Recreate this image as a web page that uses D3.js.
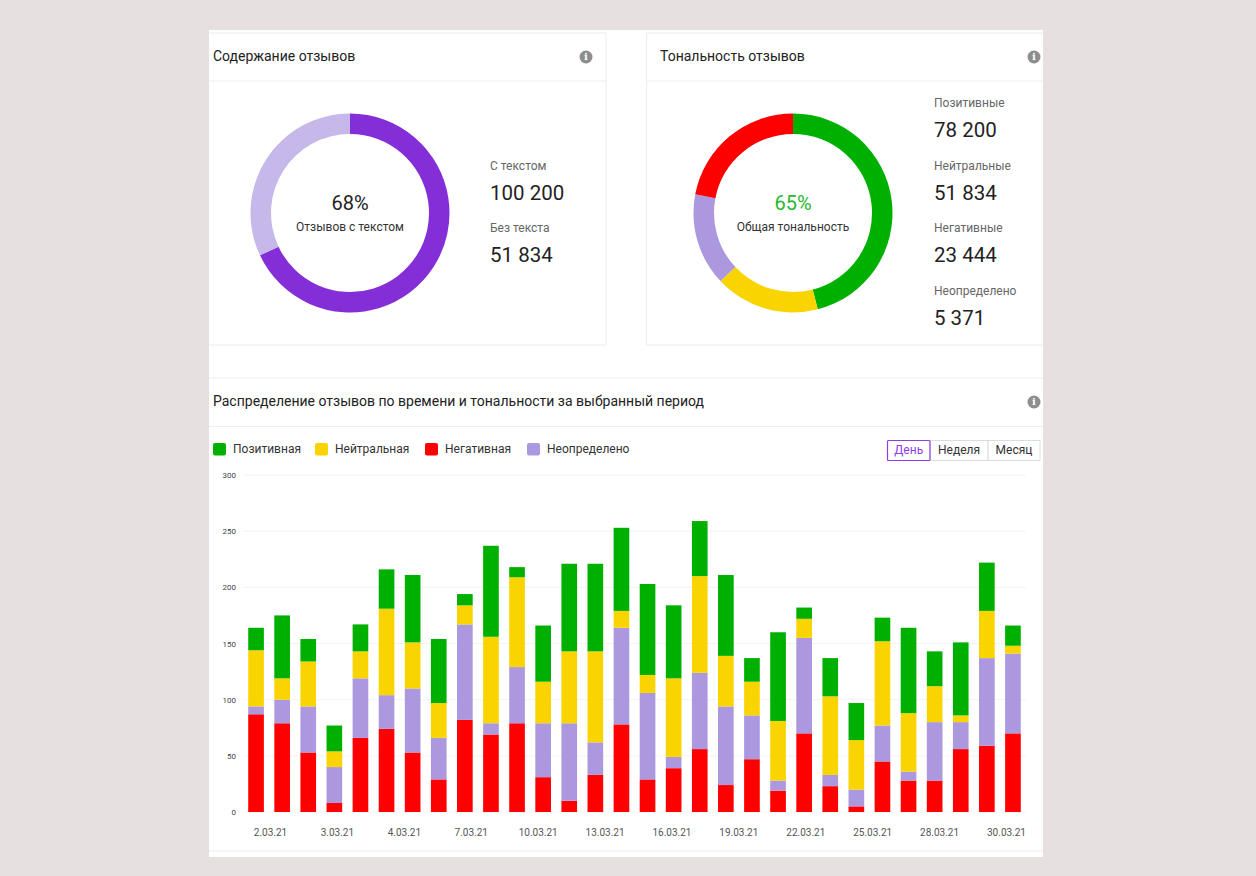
<!DOCTYPE html>
<html lang="ru">
<head>
<meta charset="utf-8">
<script src="https://cdn.jsdelivr.net/npm/d3@7.9.0/dist/d3.min.js"></script>
<style>
  html, body { margin: 0; padding: 0; background: #e6e0e0; }
  svg { display: block; font-family: Roboto, "Noto Sans", sans-serif; }
</style>
</head>
<body>
<svg id="chart" width="1256" height="876"></svg>
<script>
// ─── Data ────────────────────────────────────────────────────────────────────
const contentLabels = ['С текстом', 'Без текста'];
const contentValues = ['100 200', '51 834'];
const contentShares = [68, 32];           // donut slices, %

const toneLabels = ['Позитивные', 'Нейтральные', 'Негативные', 'Неопределено'];
const toneValues = ['78 200', '51 834', '23 444', '5 371'];
// donut slices as drawn (clockwise from top): positive, neutral, undefined, negative
const toneRingKeys = ['positive', 'neutral', 'undef', 'negative'];
const toneRingShares = [46, 17, 15, 22];

const days = ['1.03.21','2.03.21','3.03.21','4.03.21','5.03.21','6.03.21','7.03.21','8.03.21','9.03.21','10.03.21',
              '11.03.21','12.03.21','13.03.21','14.03.21','15.03.21','16.03.21','17.03.21','18.03.21','19.03.21','20.03.21',
              '21.03.21','22.03.21','23.03.21','24.03.21','25.03.21','26.03.21','27.03.21','28.03.21','29.03.21','30.03.21'];
const negative = [87,79,53,8,66,74,53,29,82,69,79,31,10,33,78,29,39,56,24,47,19,70,23,5,45,28,28,56,59,70];
const undef    = [7,21,41,32,53,30,57,37,85,10,50,48,69,29,86,77,10,68,70,39,9,85,10,15,32,8,52,24,78,71];
const neutral  = [50,19,40,14,24,77,41,31,17,77,80,37,64,81,15,16,70,86,45,30,53,17,70,44,75,52,32,6,42,7];
const positive = [20,56,20,23,24,35,60,57,10,81,9,50,78,78,74,81,65,49,72,21,79,10,34,33,21,76,31,65,43,18];

const xTickLabels = ['2.03.21','3.03.21','4.03.21','7.03.21','10.03.21','13.03.21','16.03.21','19.03.21','22.03.21','25.03.21','28.03.21','30.03.21'];
const yTicks = [0, 50, 100, 150, 200, 250, 300];

const legendLabels = ['Позитивная', 'Нейтральная', 'Негативная', 'Неопределено'];
const legendKeys = ['positive', 'neutral', 'negative', 'undef'];
const periodButtons = ['День', 'Неделя', 'Месяц'];

// ─── Colours ─────────────────────────────────────────────────────────────────
const colors = {
    positive: '#00b000',
    neutral: '#f9d400',
    negative: '#ff0000',
    undef: '#ab98de'
};
const border = '#eeeeee';

const svg = d3.select('#chart');

// ─── Page frame & cards (the screenshot crops the cards at the white area) ──
svg.append('defs').append('clipPath').attr('id', 'page')
    .append('rect').attr('x', 209).attr('y', 30).attr('width', 834).attr('height', 827);
svg.append('rect').attr('x', 209).attr('y', 30).attr('width', 834).attr('height', 827).attr('fill', '#fff');
const frame = svg.append('g').attr('clip-path', 'url(#page)');

function card(x, y, w, h, headerY) {
    frame.append('rect').attr('x', x).attr('y', y).attr('width', w).attr('height', h)
        .attr('fill', 'none').attr('stroke', border).attr('stroke-width', 1.2);
    frame.append('line').attr('x1', x).attr('x2', x + w).attr('y1', headerY).attr('y2', headerY)
        .attr('stroke', border).attr('stroke-width', 1.2);
}
card(195, 33, 411, 312, 81);
card(646.5, 33, 420, 312, 81);
card(195, 378, 860, 473, 426.5);

function title(x, y, text) {
    svg.append('text').attr('x', x).attr('y', y).attr('font-size', 14).attr('fill', '#222')
        .attr('dominant-baseline', 'middle').text(text);
}
function infoIcon(cx, cy) {
    svg.append('circle').attr('cx', cx).attr('cy', cy).attr('r', 6.5).attr('fill', '#8e8e8e');
    svg.append('text').attr('x', cx).attr('y', cy + 0.5).attr('text-anchor', 'middle')
        .attr('dominant-baseline', 'middle').attr('font-size', 10).attr('font-weight', 700)
        .attr('font-family', 'DejaVu Serif, serif').attr('fill', '#fff').text('i');
}
title(213, 57.5, 'Содержание отзывов');
title(660, 57.5, 'Тональность отзывов');
title(213, 402.5, 'Распределение отзывов по времени и тональности за выбранный период');
infoIcon(586, 57);
infoIcon(1034, 57);
infoIcon(1034, 402);

// ─── Donuts ──────────────────────────────────────────────────────────────────
const pie = d3.pie().sort(null).value(d => d.value);
const ring = d3.arc().innerRadius(79).outerRadius(99.5);

function donut(cx, cy, data, big, bigColor, small) {
    const g = svg.append('g').attr('transform', `translate(${cx},${cy})`);
    g.selectAll('path').data(pie(data)).join('path')
        .attr('d', ring).attr('fill', d => d.data.color);
    g.append('text').attr('y', -8).attr('text-anchor', 'middle').attr('dominant-baseline', 'middle')
        .attr('font-size', 20).attr('fill', bigColor).text(big);
    g.append('text').attr('y', 15).attr('text-anchor', 'middle').attr('dominant-baseline', 'middle')
        .attr('font-size', 12).attr('fill', '#333').text(small);
}
donut(350, 213,
    contentShares.map((v, i) => ({ value: v, color: i === 0 ? '#842ed8' : '#c6b8e8' })),
    `${contentShares[0]}%`, '#222', 'Отзывов с текстом');
donut(793, 213,
    toneRingShares.map((v, i) => ({ value: v, color: colors[toneRingKeys[i]] })),
    '65%', '#27b82e', 'Общая тональность');

function statList(x, y0, labels, values) {
    labels.forEach((lab, i) => {
        const y = y0 + i * 62.5;
        svg.append('text').attr('x', x).attr('y', y).attr('dominant-baseline', 'middle')
            .attr('font-size', 12).attr('fill', '#666').text(lab);
        svg.append('text').attr('x', x).attr('y', y + 28).attr('dominant-baseline', 'middle')
            .attr('font-size', 20.5).attr('fill', '#222').text(values[i]);
    });
}
statList(490, 166.5, contentLabels, contentValues);
statList(934, 104, toneLabels, toneValues);

// ─── Legend ──────────────────────────────────────────────────────────────────
const legendX = [213, 315, 425, 527];
legendLabels.forEach((lab, i) => {
    svg.append('rect').attr('x', legendX[i]).attr('y', 443).attr('width', 13).attr('height', 12.5)
        .attr('rx', 2).attr('fill', colors[legendKeys[i]]);
    svg.append('text').attr('x', legendX[i] + 20).attr('y', 450).attr('dominant-baseline', 'middle')
        .attr('font-size', 12).attr('fill', '#333').text(lab);
});

// ─── Period buttons ─────────────────────────────────────────────────────────
const btnEdges = [887.5, 930, 988, 1040];
periodButtons.forEach((lab, i) => {
    const x0 = btnEdges[i], x1 = btnEdges[i + 1];
    svg.append('rect').attr('x', x0).attr('y', 440.5).attr('width', x1 - x0).attr('height', 20)
        .attr('fill', '#fff').attr('stroke', i === 0 ? 'none' : '#dcdcdc').attr('stroke-width', 1);
    svg.append('text').attr('x', (x0 + x1) / 2).attr('y', 451).attr('text-anchor', 'middle')
        .attr('dominant-baseline', 'middle').attr('font-size', 12)
        .attr('fill', i === 0 ? '#8a3ee8' : '#333').text(lab);
});
svg.append('rect').attr('x', btnEdges[0]).attr('y', 440.5).attr('width', btnEdges[1] - btnEdges[0]).attr('height', 20)
    .attr('rx', 1).attr('fill', 'none').attr('stroke', '#8a3ee8').attr('stroke-width', 1.2);

// ─── Stacked bars ────────────────────────────────────────────────────────────
const x = d3.scaleBand().domain(days).range([243, 1026]).paddingInner(0.4).paddingOuter(0.2);
const y = d3.scaleLinear().domain([0, 300]).range([812, 475]);

const rows = days.map((d, i) => ({
    day: d, negative: negative[i], undef: undef[i], neutral: neutral[i], positive: positive[i]
}));
const stack = d3.stack().keys(['negative', 'undef', 'neutral', 'positive']);
const layers = stack(rows);

// grid
svg.append('g').selectAll('line').data(yTicks).join('line')
    .attr('x1', 243).attr('x2', 1026)
    .attr('y1', d => y(d)).attr('y2', d => y(d))
    .attr('stroke', '#f3f3f3').attr('stroke-width', 1);

// y axis
const yAxis = svg.append('g').attr('transform', 'translate(236,0)')
    .call(d3.axisLeft(y).tickValues(yTicks).tickSize(0).tickPadding(0));
yAxis.select('.domain').remove();
yAxis.selectAll('text').attr('font-size', 8).attr('fill', '#444').attr('font-family', 'Roboto, sans-serif');

svg.append('g').selectAll('g').data(layers).join('g')
    .attr('fill', d => colors[d.key])
    .selectAll('rect').data(d => d).join('rect')
    .attr('x', d => x(d.data.day))
    .attr('width', x.bandwidth())
    .attr('y', d => y(d[1]))
    .attr('height', d => y(d[0]) - y(d[1]));

// x axis labels (evenly spread, as the source chart skips labels)
const xTicks = d3.scalePoint().domain(xTickLabels).range([270, 1006]);
const xAxis = svg.append('g').attr('transform', 'translate(0,822)')
    .call(d3.axisBottom(xTicks).tickSize(0).tickPadding(7));
xAxis.select('.domain').remove();
xAxis.selectAll('text').attr('font-size', 10).attr('fill', '#555').attr('font-family', 'Roboto, sans-serif');
</script>
</body>
</html>
